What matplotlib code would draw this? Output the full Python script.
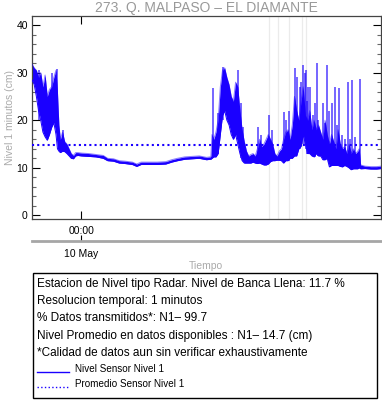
import matplotlib
matplotlib.use('Agg')
import matplotlib.pyplot as plt
from matplotlib.patches import Rectangle
from matplotlib.lines import Line2D
from matplotlib.ticker import MultipleLocator

plt.rcParams['font.family'] = ['Liberation Sans', 'DejaVu Sans']

# Level readings, hours relative to 10 May 00:00 (1-minute data shown as
# a min/max envelope read off the picture)
t_h = [-3.40, -3.25, -3.10, -2.95, -2.80, -2.65, -2.50, -2.35, -2.20, -2.05,
       -1.90, -1.75, -1.65, -1.55, -1.45, -1.30, -1.15, -1.00, -0.85, -0.70,
       -0.55, -0.40, -0.25, 0.00, 0.50, 1.00, 1.50, 1.80, 2.20, 2.60,
       3.00, 3.50, 3.80, 4.10, 4.60, 5.20, 5.80, 6.20, 6.60, 7.10,
       7.60, 8.10, 8.60, 8.85, 8.90, 8.98, 9.10, 9.25, 9.40, 9.55,
       9.70, 9.85, 10.00, 10.15, 10.30, 10.45, 10.60, 10.75, 10.90, 11.05,
       11.20, 11.35, 11.50, 11.65, 11.80, 11.95, 12.10, 12.25, 12.40, 12.55,
       12.70, 12.85, 13.00, 13.15, 13.30, 13.45, 13.60, 13.75, 13.90, 14.05,
       14.20, 14.35, 14.50, 14.65, 14.80, 14.95, 15.10, 15.25, 15.40, 15.55,
       15.70, 15.85, 16.00, 16.15, 16.30, 16.45, 16.60, 16.75, 16.90, 17.05,
       17.20, 17.35, 17.50, 17.65, 17.80, 17.95, 18.10, 18.25, 18.40, 18.55,
       18.70, 18.85, 19.00, 19.10, 19.20, 19.50, 19.90, 20.30, 20.60]
lvl_lo = [28.5, 27.5, 25.0, 22.0, 20.0, 17.5, 16.5, 15.8, 17.0, 18.5,
          19.5, 17.0, 14.0, 13.5, 13.2, 13.5, 13.4, 13.0, 12.5, 12.0,
          11.9, 12.5, 12.6, 12.5, 12.4, 12.3, 12.0, 11.5, 11.4, 11.0,
          10.9, 10.7, 10.3, 10.7, 10.7, 10.7, 10.8, 11.2, 11.5, 11.8,
          11.9, 12.0, 11.7, 11.8, 11.8, 12.0, 12.3, 12.3, 13.0, 17.0,
          21.0, 22.0, 20.0, 19.0, 17.0, 16.0, 17.0, 15.0, 13.0, 11.5,
          11.0, 11.0, 11.0, 11.0, 11.2, 11.0, 10.9, 11.0, 10.8, 10.6,
          10.6, 10.8, 11.3, 11.5, 11.5, 11.6, 11.6, 11.5, 11.0, 11.5,
          11.5, 12.0, 12.0, 12.5, 12.5, 14.0, 14.5, 17.0, 15.0, 13.0,
          13.0, 12.5, 12.3, 13.0, 12.5, 12.5, 11.7, 11.7, 12.0, 10.2,
          10.5, 10.5, 10.5, 10.5, 10.3, 10.2, 10.5, 10.3, 10.0, 9.6,
          9.8, 9.8, 9.8, 10.0, 9.8, 9.85, 9.75, 9.75, 9.85]
lvl_hi = [31.8, 31.0, 30.5, 29.0, 30.0, 27.0, 29.5, 25.0, 26.5, 27.0,
          29.0, 30.5, 26.0, 19.0, 16.0, 17.5, 15.5, 15.0, 14.0, 13.0,
          12.6, 13.2, 13.2, 13.1, 13.0, 12.8, 12.6, 12.0, 11.9, 11.5,
          11.4, 11.2, 10.8, 11.2, 11.2, 11.2, 11.3, 11.7, 12.0, 12.3,
          12.4, 12.5, 12.2, 12.3, 12.5, 17.0, 16.0, 17.5, 20.0, 27.0,
          30.5, 31.0, 29.0, 27.5, 25.0, 24.0, 28.0, 27.0, 22.0, 18.0,
          15.5, 13.5, 12.5, 12.8, 13.0, 12.5, 14.0, 16.0, 14.5, 15.0,
          16.0, 17.0, 16.0, 15.0, 13.0, 12.5, 13.5, 14.0, 16.0, 17.5,
          18.0, 16.0, 19.0, 25.0, 22.0, 20.0, 24.0, 27.0, 21.0, 20.0,
          22.0, 18.0, 20.0, 18.0, 19.0, 17.5, 16.0, 20.0, 17.0, 15.0,
          17.0, 15.5, 14.0, 18.0, 15.0, 14.0, 14.5, 13.0, 15.0, 13.0,
          14.0, 13.0, 13.5, 14.0, 10.6, 10.35, 10.25, 10.25, 10.35]

# isolated peaks (lighter strokes)
spike_t = [-2.90, -2.00, -1.70, -1.30, 9.02, 9.40, 9.73, 10.74, 11.00, 11.10,
           12.15, 12.35, 12.90, 13.10, 13.95, 14.10, 14.25, 14.68, 14.85, 15.00,
           15.12, 15.23, 15.35, 15.45, 15.52, 15.60, 15.75, 15.90, 16.05, 16.18,
           16.30, 16.60, 16.72, 16.86, 17.00, 17.25, 17.43, 17.60, 17.71, 17.90,
           18.10, 18.30, 18.45, 18.58, 18.80, 19.15]
spike_top = [30.5, 30.0, 30.7, 18.0, 26.8, 21.5, 31.2, 30.6, 23.6, 18.6,
             18.6, 17.0, 21.1, 18.0, 21.7, 20.0, 22.0, 31.0, 29.0, 27.0,
             28.0, 31.6, 30.0, 30.5, 24.0, 27.0, 27.0, 21.0, 23.6, 32.0,
             20.0, 23.6, 19.5, 31.6, 22.0, 23.6, 27.0, 19.0, 26.8, 17.0,
             16.0, 28.0, 16.0, 28.5, 16.5, 28.6]
spike_base = [20.0, 20.0, 20.0, 13.5, 12.0, 13.0, 20.0, 16.0, 12.0, 11.5,
              11.0, 11.0, 11.0, 11.5, 11.0, 11.5, 11.5, 12.5, 13.0, 14.0,
              14.5, 15.0, 15.0, 14.0, 13.0, 13.0, 13.0, 12.5, 12.3, 13.0,
              12.5, 12.0, 11.7, 12.0, 11.0, 10.5, 10.5, 10.5, 10.5, 10.3,
              10.5, 10.3, 10.0, 9.8, 9.8, 10.0]

# hours with missing data (gray markers)
gap_t = [12.92, 13.54, 14.27, 15.19, 15.44]

promedio = 14.7
blue = '#1a00ff'

fig = plt.figure(figsize=(3.82, 4.04), dpi=100)
ax = fig.add_axes([32 / 382, 185 / 404, 349 / 382, 203 / 404])

for g in gap_t:
    ax.axvline(g, color='#ebebeb', lw=0.9, zorder=1)

ax.fill_between(t_h, lvl_lo, lvl_hi, color=blue, lw=0, zorder=2)
ax.plot(t_h, lvl_lo, color=blue, lw=0.7, zorder=3)
ax.plot(t_h, lvl_hi, color=blue, lw=0.7, alpha=0.5, zorder=3)
ax.vlines(spike_t, spike_base, spike_top, color=blue, lw=1.2, alpha=0.7, zorder=2)
ax.axhline(promedio, color=blue, lw=1.5, linestyle=(0, (1, 1.5)), zorder=4)

ax.set_xlim(-3.4, 20.6)
ax.set_ylim(-0.75, 41.9)
ax.set_yticks([0, 10, 20, 30, 40])
ax.yaxis.set_minor_locator(MultipleLocator(2))
ax.set_xticks([0])
ax.set_xticklabels(['00:00'])
ax.tick_params(axis='both', which='major', direction='in', length=6, width=0.8,
               labelsize=7.5, top=True, right=True, pad=3)
ax.tick_params(axis='x', pad=5)
ax.tick_params(axis='y', which='minor', direction='in', length=3, width=0.8,
               right=True, color='#666666')
for s in ax.spines.values():
    s.set_color('#444444')
    s.set_linewidth(0.9)

ax.set_ylabel('Nivel 1 minutos (cm)', color='#aaaaaa', fontsize=7.5, labelpad=1)
ax.set_title('273. Q. MALPASO \u2013 EL DIAMANTE', color='#999999', fontsize=10, pad=3)

# date axis under the time axis
sec = ax.secondary_xaxis(-0.108)
sec.set_xticks([0])
sec.set_xticklabels(['10 May'])
sec.spines['bottom'].set_color('#a6a6a6')
sec.spines['bottom'].set_linewidth(2)
sec.tick_params(direction='in', length=4, width=0.8, labelsize=7.5, pad=6)
fig.text(206 / 382, 1 - 266 / 404, 'Tiempo', color='#aaaaaa', fontsize=7.5,
         ha='center', va='center')

# info box
fig.patches.append(Rectangle((33 / 382, 1 - 398 / 404), 344 / 382, 125 / 404,
                             transform=fig.transFigure, fill=False,
                             edgecolor='black', lw=1.0))
info = ['Estacion de Nivel tipo Radar. Nivel de Banca Llena: 11.7 %',
        'Resolucion temporal: 1 minutos',
        '% Datos transmitidos*: N1\u2013 99.7',
        'Nivel Promedio en datos disponibles : N1\u2013 14.7 (cm)',
        '*Calidad de datos aun sin verificar exhaustivamente']
for i, line in enumerate(info):
    fig.text(37 / 382, 1 - (284 + i * 17.2) / 404, line, fontsize=8.5,
             ha='left', va='center')

legend_items = [('Nivel Sensor Nivel 1', '-'), ('Promedio Sensor Nivel 1', ':')]
for i, (name, ls) in enumerate(legend_items):
    y = 1 - (369 + i * 15) / 404
    fig.lines.append(Line2D([37 / 382, 69 / 382], [y - 3 / 404, y - 3 / 404],
                            transform=fig.transFigure, color=blue, lw=1.0, linestyle=ls))
    fig.text(75 / 382, y, name, fontsize=7.1, ha='left', va='center')

fig.savefig('out.png', dpi=100)
